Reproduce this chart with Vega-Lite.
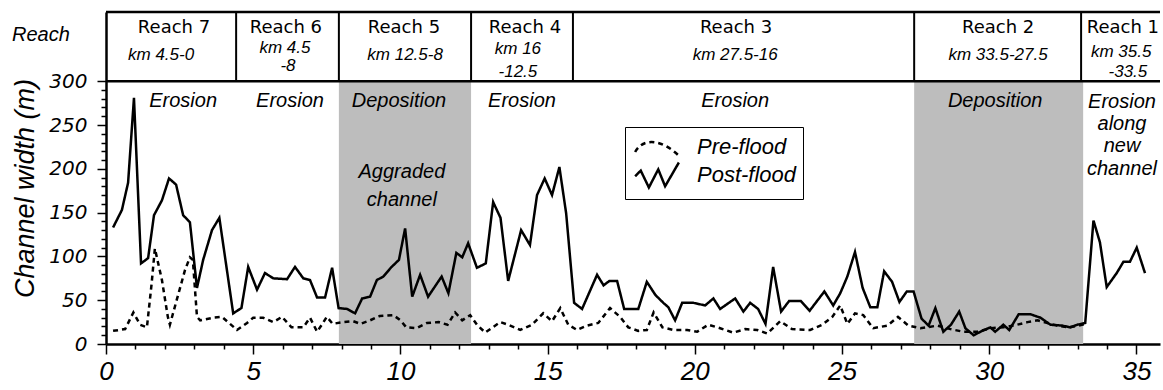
{
  "$schema": "https://vega.github.io/schema/vega-lite/v6.json",
  "width": 1054,
  "height": 332,
  "autosize": {"type": "none"},
  "padding": {"left": 106, "top": 12, "right": 3, "bottom": 46},
  "background": "white",
  "config": {
    "view": {"stroke": null},
    "font": "Liberation Sans",
    "axis": {"domainColor": "black", "tickColor": "black", "labelColor": "black", "titleColor": "black", "grid": false}
  },
  "resolve": {"axis": {"x": "independent", "y": "independent"}},
  "datasets": {
    "bands": [{"start": 7.91, "end": 12.4}, {"start": 27.45, "end": 33.19}],
    "dividers": [{"km": 4.42}, {"km": 7.91}, {"km": 12.4}, {"km": 15.86}, {"km": 27.45}, {"km": 33.12}],
    "hlines": [{"w": 379}, {"w": 300}],
    "headerReach": [
      {"label": "Reach 7", "km": 2.31, "w": 355},
      {"label": "Reach 6", "km": 6.11, "w": 355},
      {"label": "Reach 5", "km": 10.12, "w": 355},
      {"label": "Reach 4", "km": 14.23, "w": 355},
      {"label": "Reach 3", "km": 21.4, "w": 355},
      {"label": "Reach 2", "km": 30.3, "w": 355},
      {"label": "Reach 1", "km": 34.54, "w": 355}
    ],
    "headerKm": [
      {"label": "km 4.5-0", "km": 1.87, "w": 324.2},
      {"label": "km 4.5", "km": 6.08, "w": 332.2},
      {"label": "-8", "km": 6.18, "w": 311.6},
      {"label": "km 12.5-8", "km": 10.16, "w": 324.2},
      {"label": "km 16", "km": 13.99, "w": 330.5},
      {"label": "-12.5", "km": 13.99, "w": 305.2},
      {"label": "km 27.5-16", "km": 21.37, "w": 324.2},
      {"label": "km 33.5-27.5", "km": 30.3, "w": 324.2},
      {"label": "km 35.5", "km": 34.48, "w": 328.2},
      {"label": "-33.5", "km": 34.71, "w": 305.2}
    ],
    "regions": [
      {"label": "Erosion", "km": 2.62, "w": 270.5},
      {"label": "Erosion", "km": 6.25, "w": 270.5},
      {"label": "Deposition", "km": 9.95, "w": 270.5},
      {"label": "Erosion", "km": 14.13, "w": 270.5},
      {"label": "Erosion", "km": 21.37, "w": 270.5},
      {"label": "Deposition", "km": 30.2, "w": 270.5},
      {"label": "Erosion", "km": 34.51, "w": 269.4},
      {"label": "along", "km": 34.51, "w": 244.3},
      {"label": "new", "km": 34.51, "w": 219.2},
      {"label": "channel", "km": 34.51, "w": 192.9},
      {"label": "Aggraded", "km": 10.05, "w": 189.5},
      {"label": "channel", "km": 10.05, "w": 157.5}
    ],
    "rowLabel": [{"label": "Reach", "km": -2.21, "w": 345.9}],
    "lines": [
      {"series": "Post-flood", "km": 0.24, "w": 133},
      {"series": "Post-flood", "km": 0.54, "w": 153},
      {"series": "Post-flood", "km": 0.75, "w": 184},
      {"series": "Post-flood", "km": 0.95, "w": 281},
      {"series": "Post-flood", "km": 1.19, "w": 92},
      {"series": "Post-flood", "km": 1.43, "w": 98},
      {"series": "Post-flood", "km": 1.63, "w": 147},
      {"series": "Post-flood", "km": 1.9, "w": 164},
      {"series": "Post-flood", "km": 2.14, "w": 189},
      {"series": "Post-flood", "km": 2.38, "w": 182},
      {"series": "Post-flood", "km": 2.62, "w": 147},
      {"series": "Post-flood", "km": 2.85, "w": 139},
      {"series": "Post-flood", "km": 3.09, "w": 64},
      {"series": "Post-flood", "km": 3.3, "w": 96},
      {"series": "Post-flood", "km": 3.6, "w": 130},
      {"series": "Post-flood", "km": 3.85, "w": 144},
      {"series": "Post-flood", "km": 4.32, "w": 35},
      {"series": "Post-flood", "km": 4.6, "w": 41},
      {"series": "Post-flood", "km": 4.83, "w": 88},
      {"series": "Post-flood", "km": 5.13, "w": 62},
      {"series": "Post-flood", "km": 5.4, "w": 81},
      {"series": "Post-flood", "km": 5.68, "w": 75},
      {"series": "Post-flood", "km": 6.15, "w": 74},
      {"series": "Post-flood", "km": 6.42, "w": 88},
      {"series": "Post-flood", "km": 6.7, "w": 75},
      {"series": "Post-flood", "km": 6.93, "w": 73},
      {"series": "Post-flood", "km": 7.17, "w": 53},
      {"series": "Post-flood", "km": 7.44, "w": 53},
      {"series": "Post-flood", "km": 7.68, "w": 87},
      {"series": "Post-flood", "km": 7.9, "w": 41},
      {"series": "Post-flood", "km": 8.19, "w": 40},
      {"series": "Post-flood", "km": 8.46, "w": 35},
      {"series": "Post-flood", "km": 8.7, "w": 52},
      {"series": "Post-flood", "km": 8.97, "w": 54},
      {"series": "Post-flood", "km": 9.2, "w": 73},
      {"series": "Post-flood", "km": 9.42, "w": 77},
      {"series": "Post-flood", "km": 9.7, "w": 88},
      {"series": "Post-flood", "km": 9.95, "w": 96},
      {"series": "Post-flood", "km": 10.16, "w": 132},
      {"series": "Post-flood", "km": 10.4, "w": 54},
      {"series": "Post-flood", "km": 10.67, "w": 79},
      {"series": "Post-flood", "km": 10.94, "w": 54},
      {"series": "Post-flood", "km": 11.4, "w": 77},
      {"series": "Post-flood", "km": 11.63, "w": 58},
      {"series": "Post-flood", "km": 11.9, "w": 104},
      {"series": "Post-flood", "km": 12.1, "w": 99},
      {"series": "Post-flood", "km": 12.3, "w": 115},
      {"series": "Post-flood", "km": 12.6, "w": 87},
      {"series": "Post-flood", "km": 12.9, "w": 92},
      {"series": "Post-flood", "km": 13.15, "w": 162},
      {"series": "Post-flood", "km": 13.4, "w": 144},
      {"series": "Post-flood", "km": 13.66, "w": 72},
      {"series": "Post-flood", "km": 14.1, "w": 130},
      {"series": "Post-flood", "km": 14.4, "w": 113},
      {"series": "Post-flood", "km": 14.64, "w": 170},
      {"series": "Post-flood", "km": 14.9, "w": 189},
      {"series": "Post-flood", "km": 15.15, "w": 170},
      {"series": "Post-flood", "km": 15.4, "w": 202},
      {"series": "Post-flood", "km": 15.63, "w": 149},
      {"series": "Post-flood", "km": 15.9, "w": 47},
      {"series": "Post-flood", "km": 16.17, "w": 40},
      {"series": "Post-flood", "km": 16.68, "w": 79},
      {"series": "Post-flood", "km": 16.9, "w": 67},
      {"series": "Post-flood", "km": 17.1, "w": 72},
      {"series": "Post-flood", "km": 17.36, "w": 72},
      {"series": "Post-flood", "km": 17.6, "w": 40},
      {"series": "Post-flood", "km": 18.08, "w": 40},
      {"series": "Post-flood", "km": 18.37, "w": 71},
      {"series": "Post-flood", "km": 18.66, "w": 56},
      {"series": "Post-flood", "km": 18.93, "w": 47},
      {"series": "Post-flood", "km": 19.1, "w": 42},
      {"series": "Post-flood", "km": 19.33, "w": 27},
      {"series": "Post-flood", "km": 19.57, "w": 47},
      {"series": "Post-flood", "km": 19.95, "w": 47},
      {"series": "Post-flood", "km": 20.35, "w": 44},
      {"series": "Post-flood", "km": 20.63, "w": 52},
      {"series": "Post-flood", "km": 20.86, "w": 40},
      {"series": "Post-flood", "km": 21.37, "w": 52},
      {"series": "Post-flood", "km": 21.65, "w": 37},
      {"series": "Post-flood", "km": 21.88, "w": 47},
      {"series": "Post-flood", "km": 22.15, "w": 40},
      {"series": "Post-flood", "km": 22.4, "w": 23},
      {"series": "Post-flood", "km": 22.66, "w": 88},
      {"series": "Post-flood", "km": 22.93, "w": 37},
      {"series": "Post-flood", "km": 23.2, "w": 49},
      {"series": "Post-flood", "km": 23.6, "w": 49},
      {"series": "Post-flood", "km": 23.9, "w": 38},
      {"series": "Post-flood", "km": 24.4, "w": 60},
      {"series": "Post-flood", "km": 24.7, "w": 44},
      {"series": "Post-flood", "km": 24.94, "w": 58},
      {"series": "Post-flood", "km": 25.18, "w": 77},
      {"series": "Post-flood", "km": 25.44, "w": 105},
      {"series": "Post-flood", "km": 25.7, "w": 64},
      {"series": "Post-flood", "km": 25.96, "w": 42},
      {"series": "Post-flood", "km": 26.2, "w": 42},
      {"series": "Post-flood", "km": 26.43, "w": 83},
      {"series": "Post-flood", "km": 26.7, "w": 71},
      {"series": "Post-flood", "km": 26.95, "w": 48},
      {"series": "Post-flood", "km": 27.2, "w": 60},
      {"series": "Post-flood", "km": 27.43, "w": 60},
      {"series": "Post-flood", "km": 27.7, "w": 29},
      {"series": "Post-flood", "km": 27.94, "w": 21},
      {"series": "Post-flood", "km": 28.17, "w": 41},
      {"series": "Post-flood", "km": 28.44, "w": 14},
      {"series": "Post-flood", "km": 28.7, "w": 22},
      {"series": "Post-flood", "km": 28.98, "w": 37},
      {"series": "Post-flood", "km": 29.19, "w": 18},
      {"series": "Post-flood", "km": 29.47, "w": 10},
      {"series": "Post-flood", "km": 29.76, "w": 15},
      {"series": "Post-flood", "km": 30.04, "w": 19},
      {"series": "Post-flood", "km": 30.2, "w": 14},
      {"series": "Post-flood", "km": 30.48, "w": 22},
      {"series": "Post-flood", "km": 30.68, "w": 16},
      {"series": "Post-flood", "km": 31.0, "w": 34},
      {"series": "Post-flood", "km": 31.4, "w": 34},
      {"series": "Post-flood", "km": 31.74, "w": 30},
      {"series": "Post-flood", "km": 32.08, "w": 22},
      {"series": "Post-flood", "km": 32.48, "w": 21},
      {"series": "Post-flood", "km": 32.76, "w": 19},
      {"series": "Post-flood", "km": 32.99, "w": 22},
      {"series": "Post-flood", "km": 33.26, "w": 24},
      {"series": "Post-flood", "km": 33.54, "w": 141},
      {"series": "Post-flood", "km": 33.76, "w": 116},
      {"series": "Post-flood", "km": 33.99, "w": 65},
      {"series": "Post-flood", "km": 34.33, "w": 81},
      {"series": "Post-flood", "km": 34.56, "w": 94},
      {"series": "Post-flood", "km": 34.78, "w": 94},
      {"series": "Post-flood", "km": 35.01, "w": 110},
      {"series": "Post-flood", "km": 35.29, "w": 81},
      {"series": "Pre-flood", "km": 0.24, "w": 15},
      {"series": "Pre-flood", "km": 0.65, "w": 17},
      {"series": "Pre-flood", "km": 0.93, "w": 36},
      {"series": "Pre-flood", "km": 1.16, "w": 22},
      {"series": "Pre-flood", "km": 1.39, "w": 19},
      {"series": "Pre-flood", "km": 1.55, "w": 69},
      {"series": "Pre-flood", "km": 1.66, "w": 109},
      {"series": "Pre-flood", "km": 1.9, "w": 73},
      {"series": "Pre-flood", "km": 2.1, "w": 31},
      {"series": "Pre-flood", "km": 2.17, "w": 22},
      {"series": "Pre-flood", "km": 2.4, "w": 50},
      {"series": "Pre-flood", "km": 2.68, "w": 84},
      {"series": "Pre-flood", "km": 2.85, "w": 99},
      {"series": "Pre-flood", "km": 2.95, "w": 96},
      {"series": "Pre-flood", "km": 3.09, "w": 31},
      {"series": "Pre-flood", "km": 3.2, "w": 27},
      {"series": "Pre-flood", "km": 3.64, "w": 30},
      {"series": "Pre-flood", "km": 3.94, "w": 31},
      {"series": "Pre-flood", "km": 4.45, "w": 16},
      {"series": "Pre-flood", "km": 4.79, "w": 24},
      {"series": "Pre-flood", "km": 5.0, "w": 30},
      {"series": "Pre-flood", "km": 5.34, "w": 30},
      {"series": "Pre-flood", "km": 5.68, "w": 25},
      {"series": "Pre-flood", "km": 5.98, "w": 31},
      {"series": "Pre-flood", "km": 6.3, "w": 19},
      {"series": "Pre-flood", "km": 6.7, "w": 19},
      {"series": "Pre-flood", "km": 6.93, "w": 30},
      {"series": "Pre-flood", "km": 7.17, "w": 14},
      {"series": "Pre-flood", "km": 7.33, "w": 22},
      {"series": "Pre-flood", "km": 7.5, "w": 31},
      {"series": "Pre-flood", "km": 7.7, "w": 23},
      {"series": "Pre-flood", "km": 8.06, "w": 25},
      {"series": "Pre-flood", "km": 8.4, "w": 26},
      {"series": "Pre-flood", "km": 8.64, "w": 23},
      {"series": "Pre-flood", "km": 8.97, "w": 27},
      {"series": "Pre-flood", "km": 9.3, "w": 32},
      {"series": "Pre-flood", "km": 9.76, "w": 33},
      {"series": "Pre-flood", "km": 10.0, "w": 27},
      {"series": "Pre-flood", "km": 10.2, "w": 19},
      {"series": "Pre-flood", "km": 10.55, "w": 18},
      {"series": "Pre-flood", "km": 10.9, "w": 24},
      {"series": "Pre-flood", "km": 11.3, "w": 25},
      {"series": "Pre-flood", "km": 11.6, "w": 22},
      {"series": "Pre-flood", "km": 11.86, "w": 36},
      {"series": "Pre-flood", "km": 12.1, "w": 27},
      {"series": "Pre-flood", "km": 12.37, "w": 33},
      {"series": "Pre-flood", "km": 12.6, "w": 22},
      {"series": "Pre-flood", "km": 12.88, "w": 13},
      {"series": "Pre-flood", "km": 13.39, "w": 25},
      {"series": "Pre-flood", "km": 13.66, "w": 22},
      {"series": "Pre-flood", "km": 14.07, "w": 16},
      {"series": "Pre-flood", "km": 14.47, "w": 22},
      {"series": "Pre-flood", "km": 14.85, "w": 35},
      {"series": "Pre-flood", "km": 15.15, "w": 26},
      {"series": "Pre-flood", "km": 15.43, "w": 41},
      {"series": "Pre-flood", "km": 15.7, "w": 22},
      {"series": "Pre-flood", "km": 16.0, "w": 16},
      {"series": "Pre-flood", "km": 16.34, "w": 21},
      {"series": "Pre-flood", "km": 16.72, "w": 24},
      {"series": "Pre-flood", "km": 17.12, "w": 41},
      {"series": "Pre-flood", "km": 17.46, "w": 31},
      {"series": "Pre-flood", "km": 17.74, "w": 19},
      {"series": "Pre-flood", "km": 18.08, "w": 15},
      {"series": "Pre-flood", "km": 18.37, "w": 16},
      {"series": "Pre-flood", "km": 18.6, "w": 36},
      {"series": "Pre-flood", "km": 18.9, "w": 19},
      {"series": "Pre-flood", "km": 19.27, "w": 16},
      {"series": "Pre-flood", "km": 19.74, "w": 16},
      {"series": "Pre-flood", "km": 20.08, "w": 14},
      {"series": "Pre-flood", "km": 20.46, "w": 22},
      {"series": "Pre-flood", "km": 20.86, "w": 18},
      {"series": "Pre-flood", "km": 21.3, "w": 13},
      {"series": "Pre-flood", "km": 21.71, "w": 17},
      {"series": "Pre-flood", "km": 22.12, "w": 16},
      {"series": "Pre-flood", "km": 22.46, "w": 12},
      {"series": "Pre-flood", "km": 22.9, "w": 26},
      {"series": "Pre-flood", "km": 23.3, "w": 17},
      {"series": "Pre-flood", "km": 23.92, "w": 16},
      {"series": "Pre-flood", "km": 24.33, "w": 22},
      {"series": "Pre-flood", "km": 24.67, "w": 31},
      {"series": "Pre-flood", "km": 24.94, "w": 44},
      {"series": "Pre-flood", "km": 25.18, "w": 23},
      {"series": "Pre-flood", "km": 25.44, "w": 35},
      {"series": "Pre-flood", "km": 25.72, "w": 33},
      {"series": "Pre-flood", "km": 26.06, "w": 18},
      {"series": "Pre-flood", "km": 26.54, "w": 21},
      {"series": "Pre-flood", "km": 26.9, "w": 31},
      {"series": "Pre-flood", "km": 27.25, "w": 21},
      {"series": "Pre-flood", "km": 27.66, "w": 18},
      {"series": "Pre-flood", "km": 28.24, "w": 21},
      {"series": "Pre-flood", "km": 28.68, "w": 17},
      {"series": "Pre-flood", "km": 29.12, "w": 14},
      {"series": "Pre-flood", "km": 29.6, "w": 14},
      {"series": "Pre-flood", "km": 30.04, "w": 18},
      {"series": "Pre-flood", "km": 30.48, "w": 19},
      {"series": "Pre-flood", "km": 30.95, "w": 22},
      {"series": "Pre-flood", "km": 31.3, "w": 25},
      {"series": "Pre-flood", "km": 31.64, "w": 27},
      {"series": "Pre-flood", "km": 31.98, "w": 24},
      {"series": "Pre-flood", "km": 32.3, "w": 21},
      {"series": "Pre-flood", "km": 32.66, "w": 19},
      {"series": "Pre-flood", "km": 33.03, "w": 21},
      {"series": "Pre-flood", "km": 33.26, "w": 23}
    ]
  },
  "layer": [
    {
      "data": {"name": "bands"},
      "mark": {"type": "rect", "color": "#bdbdbd"},
      "encoding": {
        "x": {"field": "start", "type": "quantitative", "scale": {"domain": [0, 35.8], "nice": false, "zero": false},
          "axis": {
            "orient": "bottom",
            "title": null,
            "values": [0, 5, 10, 15, 20, 25, 30, 35],
            "tickSize": 10,
            "tickWidth": 1.5,
            "domainWidth": 2.5,
            "labelFont": "Liberation Sans",
            "labelFontStyle": "italic",
            "labelFontSize": 26,
            "labelPadding": 4,
            "labelFlush": false,
            "labelOverlap": false
          }
        },
        "x2": {"field": "end"},
        "y": {"datum": 0, "type": "quantitative", "scale": {"domain": [0, 379], "nice": false, "zero": false},
          "axis": {
            "orient": "left",
            "title": "Channel width (m)",
            "values": [0, 50, 100, 150, 200, 250, 300],
            "tickSize": 9,
            "tickWidth": 1.5,
            "domainWidth": 2.5,
            "labelFont": "DejaVu Sans",
            "labelFontStyle": "italic",
            "labelFontSize": 20,
            "labelPadding": 10,
            "labelOverlap": false,
            "titleFont": "Liberation Sans",
            "titleFontStyle": "italic",
            "titleFontWeight": "normal",
            "titleFontSize": 27,
            "titleAngle": -90,
            "titleAlign": "center",
            "titleBaseline": "alphabetic",
            "titleX": -73,
            "titleY": 176
          }
        },
        "y2": {"datum": 300}
      }
    },
    {
      "data": {"name": "hlines"},
      "mark": {"type": "rule", "color": "black", "strokeWidth": 2.5},
      "encoding": {
        "x": {"datum": 0, "type": "quantitative",
          "axis": {
            "orient": "bottom",
            "title": null,
            "values": [1,2,3,4,6,7,8,9,11,12,13,14,16,17,18,19,21,22,23,24,26,27,28,29,31,32,33,34],
            "labels": false,
            "domain": false,
            "tickSize": 5,
            "tickWidth": 1.5
          }
        },
        "x2": {"datum": 35.8},
        "y": {"field": "w", "type": "quantitative",
          "axis": {
            "orient": "left",
            "title": null,
            "values": [10,20,30,40,60,70,80,90,110,120,130,140,160,170,180,190,210,220,230,240,260,270,280,290],
            "labels": false,
            "domain": false,
            "tickSize": 5,
            "tickWidth": 1.5
          }
        }
      }
    },
    {
      "data": {"name": "dividers"},
      "mark": {"type": "rule", "color": "black", "strokeWidth": 2},
      "encoding": {
        "x": {"field": "km", "type": "quantitative", "axis": null},
        "y": {"datum": 300, "type": "quantitative", "axis": null},
        "y2": {"datum": 379}
      }
    },
    {
      "data": {"name": "headerReach"},
      "mark": {"type": "text", "font": "DejaVu Sans", "fontSize": 18, "align": "center", "baseline": "alphabetic", "color": "black"},
      "encoding": {
        "x": {"field": "km", "type": "quantitative", "axis": null},
        "y": {"field": "w", "type": "quantitative", "axis": null},
        "text": {"field": "label"}
      }
    },
    {
      "data": {"name": "headerKm"},
      "mark": {"type": "text", "font": "Liberation Sans", "fontStyle": "italic", "fontSize": 17, "align": "center", "baseline": "alphabetic", "color": "black"},
      "encoding": {
        "x": {"field": "km", "type": "quantitative", "axis": null},
        "y": {"field": "w", "type": "quantitative", "axis": null},
        "text": {"field": "label"}
      }
    },
    {
      "data": {"name": "regions"},
      "mark": {"type": "text", "font": "Liberation Sans", "fontStyle": "italic", "fontSize": 20, "align": "center", "baseline": "alphabetic", "color": "black"},
      "encoding": {
        "x": {"field": "km", "type": "quantitative", "axis": null},
        "y": {"field": "w", "type": "quantitative", "axis": null},
        "text": {"field": "label"}
      }
    },
    {
      "data": {"name": "rowLabel"},
      "mark": {"type": "text", "font": "Liberation Sans", "fontStyle": "italic", "fontSize": 20, "align": "center", "baseline": "alphabetic", "color": "black"},
      "encoding": {
        "x": {"field": "km", "type": "quantitative", "axis": null},
        "y": {"field": "w", "type": "quantitative", "axis": null},
        "text": {"field": "label"}
      }
    },
    {
      "data": {"name": "lines"},
      "mark": {"type": "line", "color": "black", "strokeWidth": 2.5, "strokeJoin": "miter"},
      "encoding": {
        "x": {"field": "km", "type": "quantitative", "axis": null},
        "y": {"field": "w", "type": "quantitative", "axis": null},
        "strokeDash": {
          "field": "series",
          "type": "nominal",
          "scale": {"domain": ["Pre-flood", "Post-flood"], "range": [[5, 4], [1, 0]]},
          "legend": {
            "orient": "none",
            "legendX": 519,
            "legendY": 115,
            "title": null,
            "strokeColor": "black",
            "fillColor": "white",
            "padding": 6,
            "cornerRadius": 0,
            "labelFont": "Liberation Sans",
            "labelFontStyle": "italic",
            "labelFontSize": 22,
            "labelColor": "black",
            "labelOffset": 26,
            "rowPadding": -4,
            "symbolSize": 625,
            "symbolStrokeWidth": 2.5,
            "symbolStrokeColor": "black",
            "symbolFillColor": "transparent",
            "symbolOffset": 12,
            "encode": {
              "symbols": {
                "update": {
                  "shape": {"signal": "datum.value === 'Pre-flood' ? 'M-1.75,0.4 C-1.1,-0.8 0.4,-0.6 1.75,0.7' : 'M-1.75,0.1 L-1.3,-0.35 L-0.65,1.0 L0.1,-0.45 L0.65,0.9 L1.75,-1.0'"},
                  "fill": {"value": "transparent"},
                  "stroke": {"value": "black"}
                }
              }
            }
          }
        }
      }
    }
  ]
}
